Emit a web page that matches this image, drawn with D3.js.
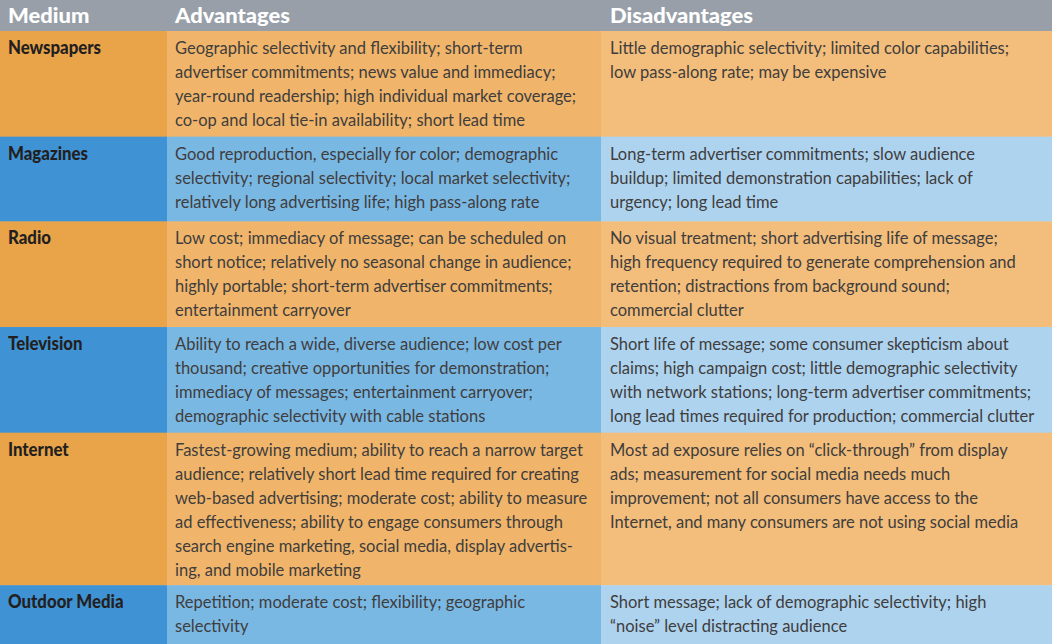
<!DOCTYPE html>
<html>
<head>
<meta charset="utf-8">
<script src="https://cdn.jsdelivr.net/npm/d3@7"></script>
<style>
  html, body { margin: 0; padding: 0; background: #ffffff; }
  svg { display: block; }
</style>
</head>
<body>
<div id="chart"></div>
<script>
// ---- data ----
const headers = ["Medium", "Advantages", "Disadvantages"];
const media = ["Newspapers", "Magazines", "Radio", "Television", "Internet", "Outdoor Media"];
const rowTheme = ["orange", "blue", "orange", "blue", "orange", "blue"];
const advantages = [
  ["Geographic selectivity and flexibility; short-term",
   "advertiser commitments; news value and immediacy;",
   "year-round readership; high individual market coverage;",
   "co-op and local tie-in availability; short lead time"],
  ["Good reproduction, especially for color; demographic",
   "selectivity; regional selectivity; local market selectivity;",
   "relatively long advertising life; high pass-along rate"],
  ["Low cost; immediacy of message; can be scheduled on",
   "short notice; relatively no seasonal change in audience;",
   "highly portable; short-term advertiser commitments;",
   "entertainment carryover"],
  ["Ability to reach a wide, diverse audience; low cost per",
   "thousand; creative opportunities for demonstration;",
   "immediacy of messages; entertainment carryover;",
   "demographic selectivity with cable stations"],
  ["Fastest-growing medium; ability to reach a narrow target",
   "audience; relatively short lead time required for creating",
   "web-based advertising; moderate cost; ability to measure",
   "ad effectiveness; ability to engage consumers through",
   "search engine marketing, social media, display advertis-",
   "ing, and mobile marketing"],
  ["Repetition; moderate cost; flexibility; geographic",
   "selectivity"]
];
const disadvantages = [
  ["Little demographic selectivity; limited color capabilities;",
   "low pass-along rate; may be expensive"],
  ["Long-term advertiser commitments; slow audience",
   "buildup; limited demonstration capabilities; lack of",
   "urgency; long lead time"],
  ["No visual treatment; short advertising life of message;",
   "high frequency required to generate comprehension and",
   "retention; distractions from background sound;",
   "commercial clutter"],
  ["Short life of message; some consumer skepticism about",
   "claims; high campaign cost; little demographic selectivity",
   "with network stations; long-term advertiser commitments;",
   "long lead times required for production; commercial clutter"],
  ["Most ad exposure relies on \u201cclick-through\u201d from display",
   "ads; measurement for social media needs much",
   "improvement; not all consumers have access to the",
   "Internet, and many consumers are not using social media"],
  ["Short message; lack of demographic selectivity; high",
   "\u201cnoise\u201d level distracting audience"]
];

// ---- layout ----
const W = 1052, H = 644;
const headerH = 31;
const colEdges = [0, 167, 601, W];
const colPad = [8, 8, 9];
const palette = {
  orange: ["#e9a449", "#f0b56a", "#f3bd7b"],
  blue:   ["#3f93d5", "#7ab8e4", "#aed3ef"],
  header: "#989fa9"
};
const lineH = 24;

// row heights from number of lines
const nLines = media.map((m, i) => Math.max(advantages[i].length, disadvantages[i].length));
const rawH = nLines.map(n => n * 23.5 + 12 + (n === 3 ? 2.5 : 0));
const totalRaw = d3.sum(rawH);
const y = d3.scaleLinear().domain([0, totalRaw]).range([headerH, H]);
const cum = [0];
rawH.forEach(h => cum.push(cum[cum.length - 1] + h));

const svg = d3.select("#chart").append("svg")
  .attr("width", W).attr("height", H);

// header
svg.append("rect").attr("x", 0).attr("y", 0).attr("width", W).attr("height", headerH)
  .attr("fill", palette.header);

const bodyFont = "Lato, 'Open Sans', sans-serif";
const boldFont = "Lato, 'Liberation Sans', sans-serif";

const rows = svg.selectAll("g.row").data(media).join("g").attr("class", "row");

rows.each(function(m, i) {
  const g = d3.select(this);
  const y0 = y(cum[i]), y1 = y(cum[i + 1]);
  const cols = palette[rowTheme[i]];
  for (let c = 0; c < 3; c++) {
    g.append("rect")
      .attr("x", colEdges[c]).attr("y", y0)
      .attr("width", colEdges[c + 1] - colEdges[c]).attr("height", y1 - y0 + 0.5)
      .attr("fill", cols[c]);
  }
  g.append("text")
    .attr("class", "medium")
    .attr("x", colEdges[0] + colPad[0]).attr("y", y0 + 23)
    .attr("fill", "#231f20")
    .attr("font-family", boldFont).attr("font-weight", 900)
    .text(m);
  [advantages[i], disadvantages[i]].forEach((lines, k) => {
    g.append("g").selectAll("text").data(lines).join("text")
      .attr("class", "body")
      .attr("x", colEdges[k + 1] + colPad[k + 1])
      .attr("y", (d, j) => y0 + 23 + j * lineH)
      .attr("fill", "#403d3d")
      .attr("font-family", bodyFont)
      .text(d => d);
  });
});

svg.selectAll("text.header").data(headers).join("text")
  .attr("class", "header")
  .attr("x", (d, i) => colEdges[i] + colPad[i])
  .attr("y", 23)
  .attr("fill", "#ffffff")
  .attr("font-family", boldFont).attr("font-weight", 900)
  .text(d => d);

// fit font sizes to reference widths
function measure(sel, sampleText, size) {
  const t = svg.append("text").attr("font-family", sel.attr("font-family"))
    .attr("font-weight", sel.attr("font-weight") || 400)
    .attr("font-size", size).text(sampleText);
  const w = t.node().getComputedTextLength();
  t.remove();
  return w;
}
const bodySel = svg.selectAll("text.body");
const bs = 100 * 348 / measure(bodySel, "Geographic selectivity and flexibility; short-term", 100);
bodySel.attr("font-size", bs);

// medium labels: condensed bold, ~19px tall, compressed horizontally
const medSel = svg.selectAll("text.medium");
const medSize = 19;
const squeeze = 93 / measure(medSel, "Newspapers", medSize);
medSel.attr("font-size", medSize)
  .attr("lengthAdjust", "spacingAndGlyphs")
  .attr("textLength", function() { return this.getComputedTextLength() * squeeze; });

const hdSel = svg.selectAll("text.header");
const hdSize = 20;
const hsq = 115 / measure(hdSel, "Advantages", hdSize);
hdSel.attr("font-size", hdSize)
  .attr("lengthAdjust", "spacingAndGlyphs")
  .attr("textLength", function() { return this.getComputedTextLength() * hsq; });
</script>
</body>
</html>
